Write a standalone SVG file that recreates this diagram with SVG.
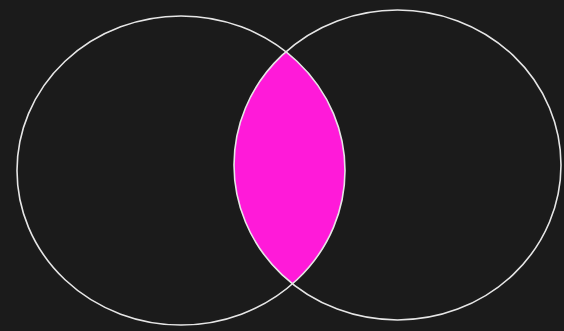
<svg xmlns="http://www.w3.org/2000/svg" width="564" height="331" viewBox="0 0 564 331">
<style>
.ring{fill:none;stroke:#e6e6e6;stroke-width:1.6}
.lens{fill:#ff1ad9}
</style>
<defs>
<clipPath id="clipRight"><ellipse cx="397.5" cy="165" rx="163.5" ry="155"/></clipPath>
</defs>
<rect x="0" y="0" width="564" height="331" fill="#1b1b1b"/>
<g id="intersection">
<ellipse class="lens" cx="181" cy="170.5" rx="164" ry="154.5" clip-path="url(#clipRight)"/>
</g>
<g id="setA">
<ellipse class="ring" cx="181" cy="170.5" rx="164" ry="154.5"/>
</g>
<g id="setB">
<ellipse class="ring" cx="397.5" cy="165" rx="163.5" ry="155"/>
</g>
<g id="connectors"></g>
</svg>
